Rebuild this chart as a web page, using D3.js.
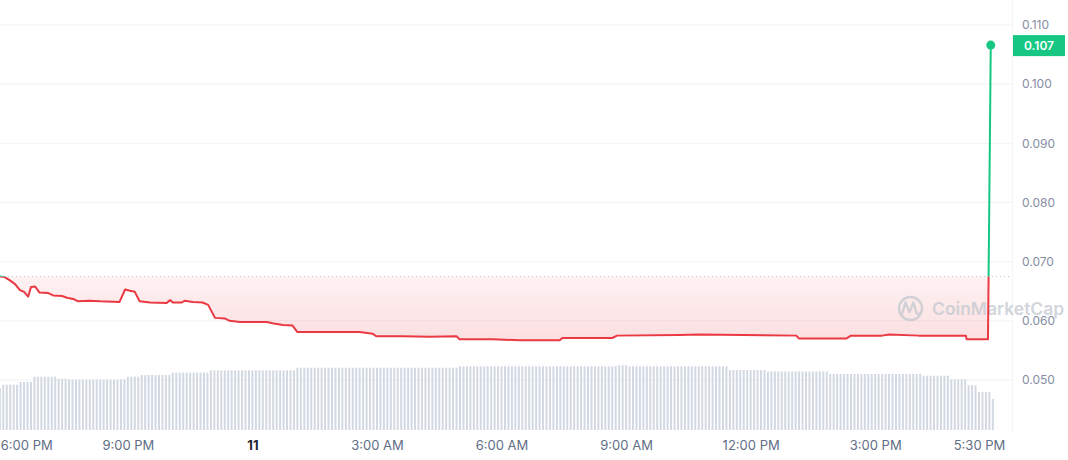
<!DOCTYPE html>
<html>
<head>
<meta charset="utf-8">
<script src="https://cdn.jsdelivr.net/npm/d3@7"></script>
<style>
  body { margin: 0; background: #fff; font-family: Inter, "Noto Sans", sans-serif; }
</style>
</head>
<body>
<div id="chart"></div>
<script>
// price samples (time, USD)
var times = [
  "2023-10-10 17:55", "2023-10-10 18:02", "2023-10-10 18:10", "2023-10-10 18:17", "2023-10-10 18:24",
  "2023-10-10 18:30", "2023-10-10 18:36", "2023-10-10 18:40", "2023-10-10 18:46", "2023-10-10 18:52",
  "2023-10-10 19:05", "2023-10-10 19:12", "2023-10-10 19:25", "2023-10-10 19:32", "2023-10-10 19:41",
  "2023-10-10 19:48", "2023-10-10 20:05", "2023-10-10 20:20", "2023-10-10 20:48", "2023-10-10 20:56",
  "2023-10-10 21:03", "2023-10-10 21:10", "2023-10-10 21:17", "2023-10-10 21:32", "2023-10-10 21:56",
  "2023-10-10 22:01", "2023-10-10 22:05", "2023-10-10 22:18", "2023-10-10 22:22", "2023-10-10 22:34",
  "2023-10-10 22:48", "2023-10-10 22:56", "2023-10-10 23:06", "2023-10-10 23:20", "2023-10-10 23:27",
  "2023-10-10 23:42", "2023-10-11 00:21", "2023-10-11 00:29", "2023-10-11 00:44", "2023-10-11 00:58",
  "2023-10-11 01:05", "2023-10-11 02:16", "2023-10-11 02:35", "2023-10-11 02:54", "2023-10-11 02:59",
  "2023-10-11 03:37", "2023-10-11 04:16", "2023-10-11 04:55", "2023-10-11 04:59", "2023-10-11 05:47",
  "2023-10-11 06:26", "2023-10-11 07:24", "2023-10-11 07:28", "2023-10-11 08:40", "2023-10-11 08:47",
  "2023-10-11 10:17", "2023-10-11 10:46", "2023-10-11 13:06", "2023-10-11 13:10", "2023-10-11 14:18",
  "2023-10-11 14:25", "2023-10-11 15:10", "2023-10-11 15:20", "2023-10-11 16:03", "2023-10-11 17:11",
  "2023-10-11 17:12", "2023-10-11 17:43", "2023-10-11 17:47"
];
var prices = [
  0.0675, 0.0674, 0.0668, 0.0662, 0.0652,
  0.0649, 0.0641, 0.0657, 0.0658, 0.0648,
  0.0647, 0.0643, 0.0642, 0.0639, 0.0637,
  0.0633, 0.0634, 0.0633, 0.0632, 0.0653,
  0.0651, 0.0649, 0.0633, 0.0631, 0.0630,
  0.0635, 0.0631, 0.0631, 0.0634, 0.0632,
  0.0631, 0.0627, 0.0605, 0.0604, 0.0600,
  0.0598, 0.0598, 0.0596, 0.0593, 0.0592,
  0.0581, 0.0581, 0.0581, 0.0578, 0.0574,
  0.0574, 0.0573, 0.0574, 0.0569, 0.0569,
  0.0567, 0.0567, 0.0571, 0.0571, 0.0575,
  0.0576, 0.0577, 0.0575, 0.0570, 0.0570,
  0.0575, 0.0575, 0.0577, 0.0575, 0.0575,
  0.0569, 0.0569, 0.1066
];
var openPrice = 0.0675;

// 24h volume bars, one every 5 minutes starting at volStart (thousand USD)
var volStart = "2023-10-10 17:55";
var volumes = [
  420, 453, 453, 453, 453, 453, 480, 480, 480, 480, 533, 533, 533, 533, 533, 533, 533, 513, 513, 513, 505, 505, 505, 505,
  505, 505, 505, 505, 505, 505, 505, 505, 505, 505, 505, 505, 505, 533, 533, 533, 533, 550, 550, 550, 550, 550, 550, 550,
  550, 550, 573, 573, 573, 573, 573, 573, 573, 573, 573, 573, 573, 597, 597, 597, 597, 597, 597, 597, 597, 597, 597, 597,
  597, 597, 597, 597, 597, 597, 597, 597, 597, 597, 597, 597, 597, 597, 623, 623, 623, 623, 623, 623, 623, 623, 623, 623,
  623, 623, 623, 623, 623, 623, 623, 623, 623, 623, 623, 623, 623, 623, 623, 623, 623, 623, 623, 623, 623, 623, 623, 623,
  623, 623, 623, 623, 623, 623, 623, 623, 623, 623, 623, 623, 623, 637, 637, 637, 637, 637, 637, 637, 637, 637, 637, 637,
  637, 637, 637, 637, 637, 637, 637, 637, 637, 637, 637, 637, 637, 637, 637, 637, 637, 637, 637, 637, 637, 637, 637, 637,
  637, 637, 637, 637, 637, 637, 637, 637, 637, 637, 637, 647, 647, 647, 637, 637, 637, 637, 637, 637, 637, 637, 637, 637,
  637, 637, 637, 637, 637, 637, 637, 637, 637, 637, 637, 637, 637, 637, 637, 637, 637, 637, 637, 600, 600, 600, 600, 600,
  600, 600, 600, 600, 600, 600, 585, 585, 585, 585, 585, 585, 585, 585, 585, 585, 585, 585, 585, 585, 585, 585, 585, 585,
  560, 560, 560, 560, 560, 560, 560, 560, 560, 560, 560, 560, 560, 560, 560, 560, 560, 560, 560, 560, 560, 560, 560, 560,
  560, 560, 560, 543, 543, 543, 543, 543, 543, 543, 543, 507, 507, 507, 507, 507, 447, 447, 447, 380, 380, 380, 380, 310
];

// axis ticks
var xTickTimes = ["2023-10-10 18:00", "2023-10-10 21:00", "2023-10-11 00:00", "2023-10-11 03:00", "2023-10-11 06:00",
                  "2023-10-11 09:00", "2023-10-11 12:00", "2023-10-11 15:00", "2023-10-11 17:30"];
var xTickLabels = ["6:00 PM", "9:00 PM", "11", "3:00 AM", "6:00 AM", "9:00 AM", "12:00 PM", "3:00 PM", "5:30 PM"];
var yTicks = [0.050, 0.060, 0.070, 0.080, 0.090, 0.100, 0.110];

var parse = d3.timeParse("%Y-%m-%d %H:%M");
var data = times.map(function(t, i) { return {t: parse(t), v: prices[i]}; });
var t0 = parse(volStart);
var volData = volumes.map(function(v, i) { return {t: d3.timeMinute.offset(t0, 5 * i), v: v}; });

var width = 1068, height = 460, plotRight = 1012;

var x = d3.scaleTime()
    .domain([parse(xTickTimes[0]), parse(xTickTimes[8])])
    .range([3.3, 979]);
var y = d3.scaleLinear().domain([0.050, 0.110]).range([380, 25]);
var yVol = d3.scaleLinear().domain([0, 700]).range([430, 360]);

var svg = d3.select("#chart").append("svg")
    .attr("width", width).attr("height", height);

var defs = svg.append("defs");
var base = y(openPrice);
var minY = y(d3.min(prices));

var grad = defs.append("linearGradient").attr("id", "redFill")
    .attr("gradientUnits", "userSpaceOnUse")
    .attr("x1", 0).attr("x2", 0).attr("y1", base).attr("y2", minY);
grad.append("stop").attr("offset", "0%").attr("stop-color", "#ea3943").attr("stop-opacity", 0.07);
grad.append("stop").attr("offset", "100%").attr("stop-color", "#ea3943").attr("stop-opacity", 0.16);

defs.append("clipPath").attr("id", "below")
  .append("rect").attr("x", 0).attr("y", base).attr("width", plotRight).attr("height", height - base);
defs.append("clipPath").attr("id", "above")
  .append("rect").attr("x", 0).attr("y", 0).attr("width", plotRight).attr("height", base);

// grid lines
svg.append("g").selectAll("line")
  .data(yTicks).enter().append("line")
    .attr("x1", 0).attr("x2", plotRight)
    .attr("y1", function(d) { return y(d); }).attr("y2", function(d) { return y(d); })
    .attr("stroke", "#f2f3f5").attr("stroke-width", 1);

svg.append("line")
    .attr("x1", plotRight + 0.5).attr("x2", plotRight + 0.5).attr("y1", 0).attr("y2", 432)
    .attr("stroke", "#f4f5f7");

// volume bars
svg.append("g").selectAll("rect")
  .data(volData).enter().append("rect")
    .attr("x", function(d) { return x(d.t) - 1; })
    .attr("width", 2)
    .attr("y", function(d) { return yVol(d.v); })
    .attr("height", function(d) { return yVol(0) - yVol(d.v); })
    .attr("fill", "#d3d9e3");

// area between price and open
var area = d3.area()
    .x(function(d) { return x(d.t); })
    .y0(base)
    .y1(function(d) { return y(d.v); });
svg.append("path").datum(data)
    .attr("clip-path", "url(#below)")
    .attr("d", area)
    .attr("fill", "url(#redFill)");

// watermark
var wm = svg.append("g").attr("opacity", 0.75);
wm.append("circle").attr("cx", 910.5).attr("cy", 308.5).attr("r", 11.5)
    .attr("fill", "none").attr("stroke", "#c3c8d0").attr("stroke-width", 2.4);
wm.append("path")
    .attr("d", "M902,314 L905.5,302.5 L909.5,312 L913.5,302.5 L916.5,313 Q918,315 920,313")
    .attr("fill", "none").attr("stroke", "#c3c8d0").attr("stroke-width", 2.4)
    .attr("stroke-linejoin", "round").attr("stroke-linecap", "round");
wm.append("text").attr("x", 932).attr("y", 315)
    .attr("font-size", 17.5).attr("font-weight", 600).attr("fill", "#c3c8d0")
    .text("CoinMarketCap");

// open price dotted line
svg.append("line")
    .attr("x1", 0).attr("x2", plotRight).attr("y1", base).attr("y2", base)
    .attr("stroke", "#b8bec8").attr("stroke-width", 1).attr("stroke-dasharray", "1,3");

// price line
var line = d3.line()
    .x(function(d) { return x(d.t); })
    .y(function(d) { return y(d.v); });
svg.append("path").datum(data)
    .attr("clip-path", "url(#below)")
    .attr("d", line)
    .attr("fill", "none").attr("stroke", "#ea3943").attr("stroke-width", 2)
    .attr("stroke-linejoin", "round");
svg.append("path").datum(data)
    .attr("clip-path", "url(#above)")
    .attr("d", line)
    .attr("fill", "none").attr("stroke", "#16c784").attr("stroke-width", 2)
    .attr("stroke-linejoin", "round");

var last = data[data.length - 1];
svg.append("circle")
    .attr("cx", x(last.t)).attr("cy", y(last.v)).attr("r", 4.5)
    .attr("fill", "#16c784");

// right price axis
svg.append("g").selectAll("text")
  .data(yTicks).enter().append("text")
    .attr("x", 1022).attr("y", function(d) { return y(d); })
    .attr("dy", "0.35em")
    .attr("font-size", 12).attr("fill", "#858ca2")
    .text(function(d) { return d3.format(".3f")(d); });

// last price badge
var badgeY = y(last.v);
svg.append("rect")
    .attr("x", 1013).attr("y", badgeY - 10).attr("width", 52).attr("height", 21)
    .attr("fill", "#16c784");
svg.append("text")
    .attr("x", 1039).attr("y", badgeY + 0.5).attr("dy", "0.35em")
    .attr("text-anchor", "middle")
    .attr("font-size", 12).attr("font-weight", 600).attr("fill", "#fff")
    .text(d3.format(".3f")(last.v));

// time axis
var xAxis = d3.axisBottom(x)
    .tickValues(xTickTimes.map(parse))
    .tickFormat(function(d, i) { return xTickLabels[i]; })
    .tickSize(0).tickPadding(0);
var gx = svg.append("g").attr("transform", "translate(0,440)").call(xAxis);
gx.select(".domain").remove();
gx.selectAll("text")
    .attr("font-family", "Inter, 'Noto Sans', sans-serif")
    .attr("font-size", 13)
    .attr("fill", "#616e85")
    .attr("dy", "0.35em")
    .attr("y", 5);
gx.selectAll("text").filter(function(d, i) { return xTickLabels[i] === "11"; })
    .attr("font-weight", 700).attr("fill", "#222531");
gx.selectAll("text").filter(function(d, i) { return i === 0; })
    .attr("text-anchor", "start").attr("x", -3);
</script>
</body>
</html>
